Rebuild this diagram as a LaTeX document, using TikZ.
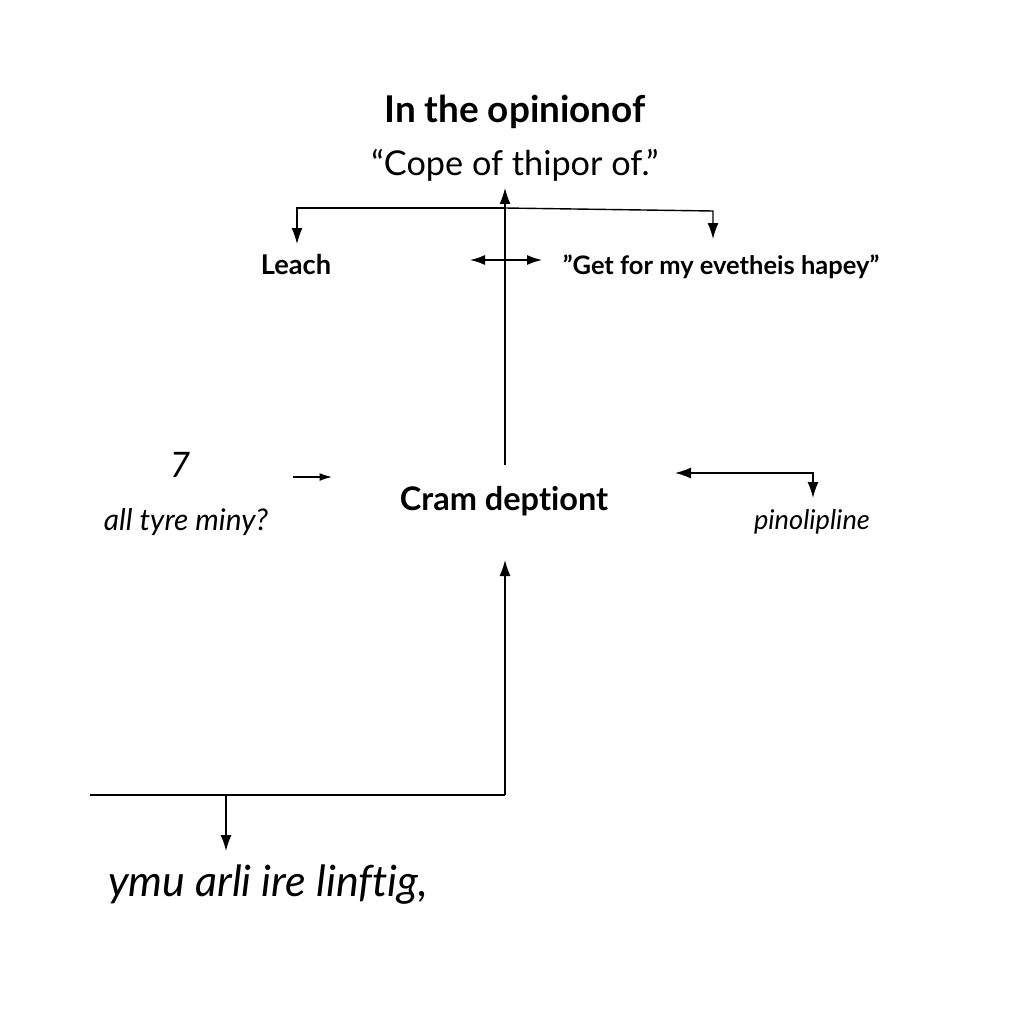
\documentclass[tikz,border=0pt]{standalone}
\usepackage{fontspec}
\setmainfont{Lato}[Ligatures={NoCommon}]
\newfontfamily\handfont{Lato}[Ligatures={NoCommon}]
\usetikzlibrary{arrows.meta, positioning}

\begin{document}
\begin{tikzpicture}[x=0.02cm, y=-0.02cm,
    heading/.style={font=\fontsize{21}{24}\selectfont\bfseries, inner sep=1pt},
    quote/.style={font=\fontsize{19.5}{22}\selectfont, inner sep=1pt},
    item/.style={font=\fontsize{15.5}{18}\selectfont\bfseries, inner sep=1pt},
    hand/.style={font=\handfont\itshape\fontsize{17}{20}\selectfont, inner sep=1pt},
    link/.style={-{Latex[length=3.2mm, width=2.2mm]}, line width=0.8pt},
    thin/.style={line width=0.8pt},
]
\useasboundingbox (0,0) rectangle (1024,1024);

\node[heading] (title) at (515,112) {In the opinionof};
\node[quote] (sub) at (515,165) {“Cope of thipor of.”};
\node[item] (leach) at (296,264) {Leach};
\node[item, font=\fontsize{14.5}{17}\selectfont\bfseries] (get) at (721,267) {\char"22 Get for my evetheis hapey\char"22};
\node[heading, font=\fontsize{18.5}{21}\selectfont\bfseries] (cram) at (504,501) {Cram deptiont};
\node[hand, font=\handfont\itshape\fontsize{20}{22}\selectfont] (seven) at (180,465) {7};
\node[hand] (tyre) at (186,522) {all tyre miny?};
\node[hand, font=\handfont\itshape\fontsize{15.5}{18}\selectfont] (pino) at (812,522) {pinolipline};
\node[hand, font=\handfont\itshape\fontsize{24.5}{27}\selectfont] (ymu) at (268,885) {ymu arli ire linftig,};

\coordinate (stem) at (505,465);
\coordinate (top) at (505,188);
\coordinate (fork) at (505,208);
\coordinate (base) at (505,795);
\coordinate (baseL) at (90,795);
\coordinate (drop) at (226,795);
\coordinate (dropEnd) at (226,851);
\coordinate (pipe) at (675,473);
\coordinate (pipeEnd) at (813,498);
\coordinate (small) at (293,477);
\coordinate (smallEnd) at (332,477);
\coordinate (leftEnd) at (297,244);
\coordinate (rightEnd) at (713,239);
\coordinate (cramIn) at (505,560);

% Cram -> quote
\draw[link] (stem) -- (top);

% fork to Leach and Get
\draw[link] (fork) -- (297,208) -- (leftEnd);
\draw[link] (fork) -- (713,211) -- (rightEnd);

% double arrow
\draw[{Latex[length=3mm, width=2mm]}-{Latex[length=3mm, width=2mm]}, line width=0.8pt] (470,260) -- (542,260);

% small arrow
\draw[-{Latex[length=2.5mm, width=1.6mm]}, line width=0.8pt] (small) -- (smallEnd);

% pipe -> pinolipline
\draw[{Latex[length=3.2mm, width=2.2mm]}-{Latex[length=3.2mm, width=2.2mm]}, line width=0.8pt]
    (pipe) -- (813,473) -- (pipeEnd);

% base line up to Cram
\draw[thin] (baseL) -- (base);
\draw[link] (base) -- (cramIn);

% down to ymu
\draw[link] (drop) -- (dropEnd);

\end{tikzpicture}
\end{document}
